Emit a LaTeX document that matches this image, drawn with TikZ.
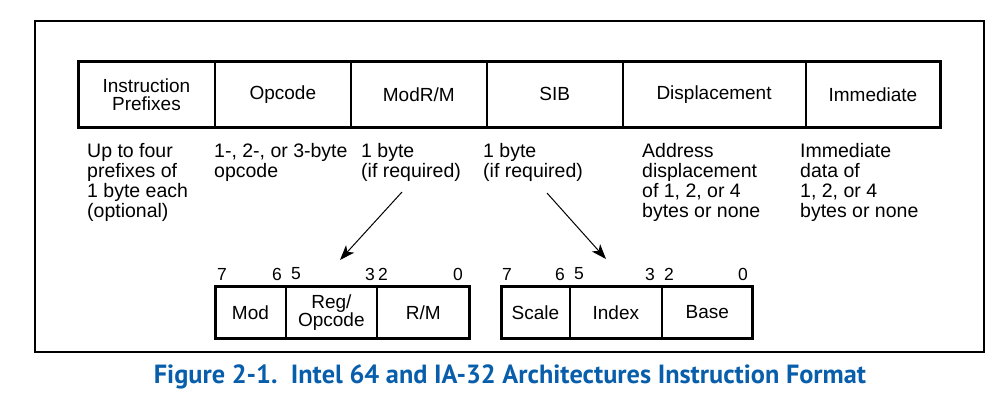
\documentclass[tikz,border=0pt]{standalone}
\usepackage{fontspec}
\setmainfont{Liberation Sans}
\newfontfamily\capfont{PT Sans}
\usepackage{xcolor}
\usetikzlibrary{positioning,arrows.meta}
\definecolor{intelblue}{RGB}{8,94,170}

\tikzset{
	field/.style={draw, line width=0.9pt, minimum height=66, inner sep=0, align=center, font=\fontsize{19}{18}\selectfont},
	bitfield/.style={draw, line width=0.9pt, minimum height=52, inner sep=0, align=center, font=\fontsize{19}{17}\selectfont},
	note/.style={anchor=north west, inner sep=0, align=left, font=\fontsize{19.5}{20}\selectfont},
	bitno/.style={inner sep=0, font=\fontsize{17.5}{17.5}\selectfont},
	heavy/.style={line width=3pt},
	ptr/.style={-{Stealth[length=15pt,width=11pt,inset=4pt]}, line width=1pt}
}

\begin{document}
\begin{tikzpicture}[x=1pt,y=-1pt]
		\useasboundingbox (0,0) rectangle (995,405);
		\draw[line width=1.2pt] (35,21) rectangle (984,352);
		% instruction fields
		\node[field, minimum width=136, anchor=north west] (pre) at (78,61) {Instruction\\Prefixes};
		\node[field, minimum width=135, right=0pt of pre] (opc) {Opcode};
		\node[field, minimum width=135, right=0pt of opc] (modrm) {ModR/M};
		\node[field, minimum width=135, right=0pt of modrm] (sib) {SIB};
		\node[field, minimum width=182, right=0pt of sib] (disp) {Displacement};
		\node[field, minimum width=134, right=0pt of disp] (imm) {Immediate};
		\draw[heavy] (pre.north west) rectangle (imm.south east);
		% notes below the fields
		\node[note] (prenote) at (87,143) {Up to four\\prefixes of\\1 byte each\\(optional)};
		\node[note] (opcnote) at (214,143) {1-, 2-, or 3-byte\\opcode};
		\node[note] (modrmnote) at (361,143) {1 byte\\(if required)};
		\node[note] (sibnote) at (483,143) {1 byte\\(if required)};
		\node[note] (dispnote) at (642,143) {Address\\displacement\\of 1, 2, or 4\\bytes or none};
		\node[note] (immnote) at (800,143) {Immediate\\data of\\1, 2, or 4\\bytes or none};
		% ModR/M byte
		\node[bitfield, minimum width=70, anchor=north west] (mod) at (215,286) {Mod};
		\node[bitfield, minimum width=90, right=0pt of mod] (reg) {Reg/\\Opcode};
		\node[bitfield, minimum width=92, right=0pt of reg] (rm) {R/M};
		\draw[heavy] (mod.north west) rectangle (rm.south east);
		\node[bitno] (m7) at (222,274) {7};
		\node[bitno] (m6) at (277,274) {6};
		\node[bitno] (m5) at (296,274) {5};
		\node[bitno] (m3) at (370,274) {3};
		\node[bitno] (m2) at (383,274) {2};
		\node[bitno] (m0) at (458,274) {0};
		% SIB byte
		\node[bitfield, minimum width=68, anchor=north west] (scale) at (501,286) {Scale};
		\node[bitfield, minimum width=91, right=0pt of scale] (index) {Index};
		\node[bitfield, minimum width=90, right=0pt of index] (base) {Base};
		\draw[heavy] (scale.north west) rectangle (base.south east);
		\node[bitno] (s7) at (507,274) {7};
		\node[bitno] (s6) at (560,274) {6};
		\node[bitno] (s5) at (579,274) {5};
		\node[bitno] (s3) at (650,274) {3};
		\node[bitno] (s2) at (669,274) {2};
		\node[bitno] (s0) at (743,274) {0};
		% pointers to the expanded bytes
		\coordinate (modrmfrom) at (402,192);
		\coordinate (modrmto) at (340,260);
		\coordinate (sibfrom) at (547,193);
		\coordinate (sibto) at (606,259);
		\draw[ptr] (modrmfrom) -- (modrmto);
		\draw[ptr] (sibfrom) -- (sibto);
		\node[font=\capfont\bfseries\fontsize{26.3}{26.3}\selectfont, text=intelblue, inner sep=0, anchor=base] (caption) at (510,383) {Figure 2-1.\ \ Intel 64 and IA-32 Architectures Instruction Format};
	\end{tikzpicture}
\end{document}
